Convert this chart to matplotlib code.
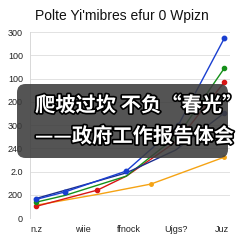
import matplotlib.pyplot as plt
import matplotlib.patheffects as pe
from matplotlib.patches import FancyBboxPatch

# dane (jednostki = linie siatki)
x_labels = ['n.z', 'wiie', 'ffnock', 'Ujgs?', 'Juz']
y_labels = ['0', '200', '2.0', '240', '300', '200', '100', '100', '300']

blue_x = [0, 0.62, 1.94, 3.06, 4.05]
blue_y = [0.8, 1.12, 2.02, 4.0, 7.74]
navy_x = [0, 1.94, 3.0, 4.05]
navy_y = [0.84, 1.94, 2.92, 4.52]
green_x = [0, 0.62, 1.94, 3.06, 4.05]
green_y = [0.68, 0.97, 1.8, 3.57, 6.45]
red_x = [0, 1.32, 1.94, 3.06, 4.05]
red_y = [0.5, 1.2, 1.8, 3.35, 5.85]
orange_x = [0, 1.36, 2.47, 4.05]
orange_y = [0.55, 1.03, 1.46, 2.62]

fig = plt.figure(figsize=(2.43, 2.43), dpi=100)
ax = fig.add_axes([30 / 243, 1 - 218 / 243, 200 / 243, 186 / 243])

ax.plot(orange_x, orange_y, color='#f5a314', lw=1, marker='o', ms=2.5, markevery=[2, 3])
ax.plot(red_x, red_y, color='#d81515', lw=1, marker='o', ms=3, markevery=[0, 1, 4])
ax.plot(green_x, green_y, color='#15901a', lw=1, marker='o', ms=3, markevery=[0, 4])
ax.plot(navy_x, navy_y, color='#1c2f8f', lw=1, marker='o', ms=3, markevery=[3])
ax.plot(blue_x, blue_y, color='#1a3fd0', lw=1, marker='o', ms=3.2, markevery=[0, 1, 2, 3, 4])

ax.set_xlim(-0.13, 4.17)
ax.set_ylim(0, 8)
ax.set_xticks(range(len(x_labels)))
ax.set_xticklabels(x_labels)
ax.set_yticks(range(len(y_labels)))
ax.set_yticklabels(y_labels)
ax.tick_params(length=0, labelsize=6.5, colors='#222222', pad=5)
for lab in ax.get_xticklabels() + ax.get_yticklabels():
    lab.set_family('Liberation Sans')
ax.grid(axis='y', color='#e2e2e2', lw=0.7)
for s in ['top', 'right', 'bottom']:
    ax.spines[s].set_visible(False)
ax.spines['left'].set_color('#d8d8d8')
ax.spines['left'].set_linewidth(0.7)

fig.text(0.5, 1 - 16 / 243, "Polte Yi'mibres efur 0 Wpizn", ha='center', va='center',
         fontsize=10, family='Liberation Sans', color='#111111')

# nakladka z napisem
box = FancyBboxPatch((17 / 243, 1 - 158 / 243), 211 / 243, 74 / 243,
                     boxstyle='round,pad=0,rounding_size=0.035',
                     transform=fig.transFigure, facecolor='#3c3c3c', alpha=0.88,
                     edgecolor='none', zorder=5)
fig.patches.append(box)
stroke = [pe.withStroke(linewidth=2.4, foreground='black')]
fig.text(35 / 243, 1 - 105 / 243, '爬坡过坎 不负“春光”', ha='left', va='center',
         fontsize=14.6, color='white', fontweight='heavy',
         family=['Noto Sans CJK SC', 'DejaVu Sans'], path_effects=stroke, zorder=6)
fig.text(35 / 243, 1 - 136 / 243, '——政府工作报告体会', ha='left', va='center',
         fontsize=14.6, color='white', fontweight='heavy',
         family=['Noto Sans CJK SC', 'DejaVu Sans'], path_effects=stroke, zorder=6)

fig.savefig('out.png', dpi=100)
